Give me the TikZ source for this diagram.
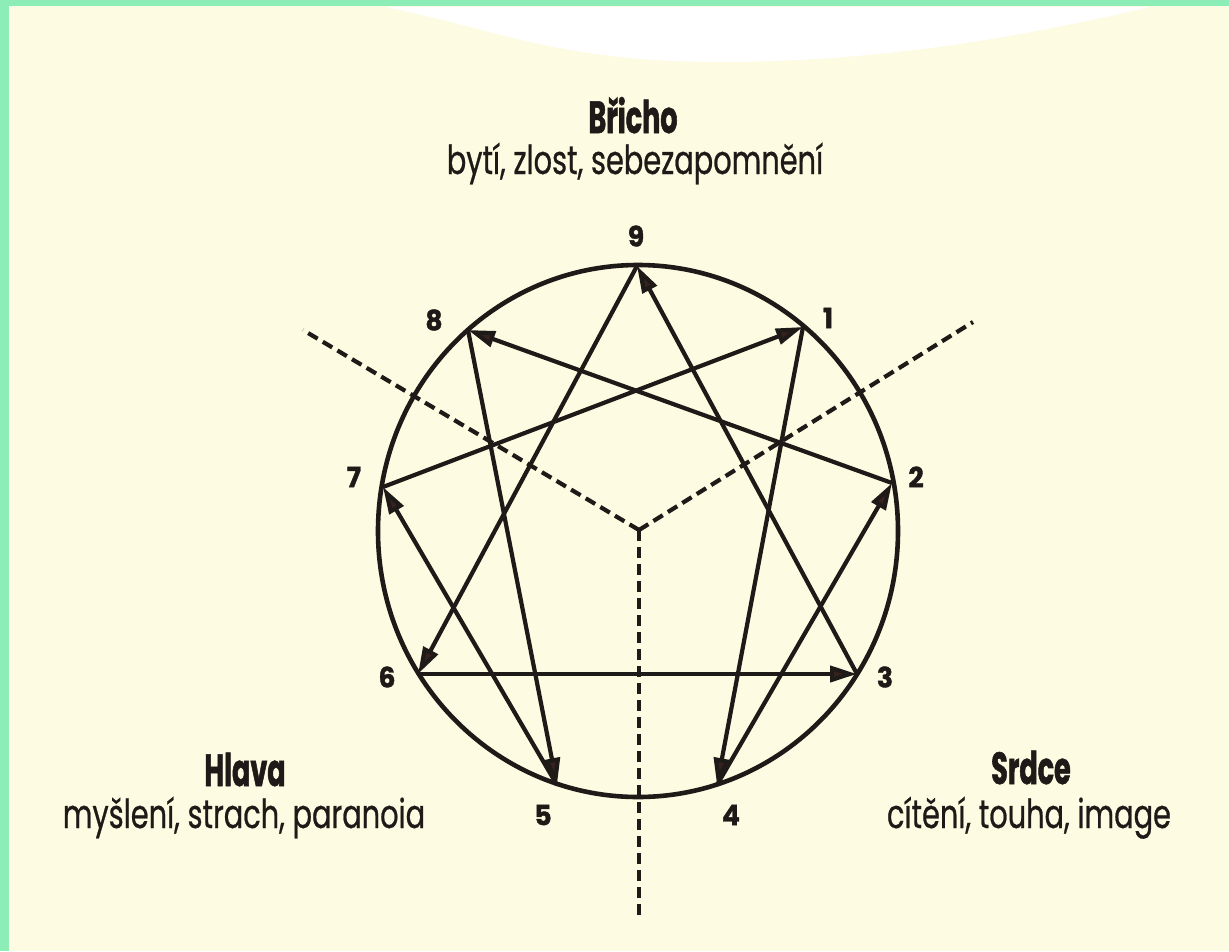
\documentclass[tikz,border=0pt]{standalone}
\usepackage{fontspec}
\usetikzlibrary{arrows.meta}
\newfontfamily\fut[FakeStretch=0.72,FakeBold=0.6]{Poppins}
\newfontfamily\head[FakeStretch=0.60,FakeBold=1.2]{Poppins}
\newfontfamily\dig[FakeStretch=0.95,FakeBold=1.4]{Poppins}
\definecolor{paper}{RGB}{253,251,225}
\definecolor{mint}{RGB}{140,238,182}
\definecolor{ink}{RGB}{30,26,24}
\definecolor{tipc}{RGB}{55,34,30}
\tikzset{
  ring/.style={draw=ink, line width=4.6pt},
  conn/.style={draw=ink, line width=4.2pt, -{Triangle[length=27pt,width=16pt,fill=tipc]}},
  divider/.style={draw=ink, line width=4.2pt, dash pattern=on 11pt off 6pt},
  numlab/.style={text=ink, font=\dig\bfseries\fontsize{28}{30}\selectfont, inner sep=0pt},
  headlab/.style={text=ink, font=\head\bfseries\fontsize{45}{50}\selectfont, inner sep=0pt, anchor=base},
  bodylab/.style={text=ink, font=\fut\fontsize{40}{44}\selectfont, inner sep=0pt, anchor=base}
}
\begin{document}
\begin{tikzpicture}[x=1pt,y=-1pt]
\useasboundingbox (0,0) rectangle (1229,951);
\fill[paper] (0,0) rectangle (1229,951);
% white patch at the top
\fill[white] (385,7) .. controls (500,30) and (560,62) .. (720,62)
  .. controls (900,62) and (1050,30) .. (1150,7) -- cycle;
% green margins
\fill[mint] (0,0) rectangle (1229,6);
\fill[mint] (0,0) rectangle (9,951);

% points on the circle
\coordinate (c) at (639,530);
\coordinate (p9) at (637,266);
\coordinate (p1) at (803,327);
\coordinate (p2) at (892,483);
\coordinate (p3) at (857,674);
\coordinate (p4) at (717,785);
\coordinate (p5) at (557,785);
\coordinate (p6) at (418,674);
\coordinate (p7) at (383,487);
\coordinate (p8) at (468,330);
\coordinate (dl) at (303,330);
\coordinate (dr) at (973,322);
\coordinate (db) at (639,918);

% dividers
\draw[divider] (c) -- (dl);
\draw[divider] (c) -- (dr);
\draw[divider] (c) -- (db);

% circle
\draw[ring] (638,531) ellipse [x radius=260, y radius=266];

% connectors
\draw[conn] (p1) -- (p4);
\draw[conn] (p4) -- (p2);
\draw[conn] (p2) -- (p8);
\draw[conn] (p8) -- (p5);
\draw[conn] (p5) -- (p7);
\draw[conn] (p7) -- (p1);
\draw[conn] (p9) -- (p6);
\draw[conn] (p6) -- (p3);
\draw[conn] (p3) -- (p9);

% number labels
\node[numlab] (n9) at (636,236) {9};
\node[numlab] (n8) at (434,320) {8};
\node[numlab] (n1) at (828,318) {1};
\node[numlab] (n7) at (354,477) {7};
\node[numlab] (n2) at (916,477) {2};
\node[numlab] (n6) at (387,677) {6};
\node[numlab] (n3) at (885,677) {3};
\node[numlab] (n5) at (543,815) {5};
\node[numlab] (n4) at (731,815) {4};

% centre labels
\node[headlab] (bh) at (633,133) {Břicho};
\node[bodylab] (bt) at (635,174) {bytí, zlost, sebezapomnění};
\node[headlab] (hh) at (245,786) {Hlava};
\node[bodylab] (ht) at (244,828) {myšlení, strach, paranoia};
\node[headlab] (sh) at (1031,784) {Srdce};
\node[bodylab] (st) at (1029,828) {cítění, touha, image};
\end{tikzpicture}
\end{document}
